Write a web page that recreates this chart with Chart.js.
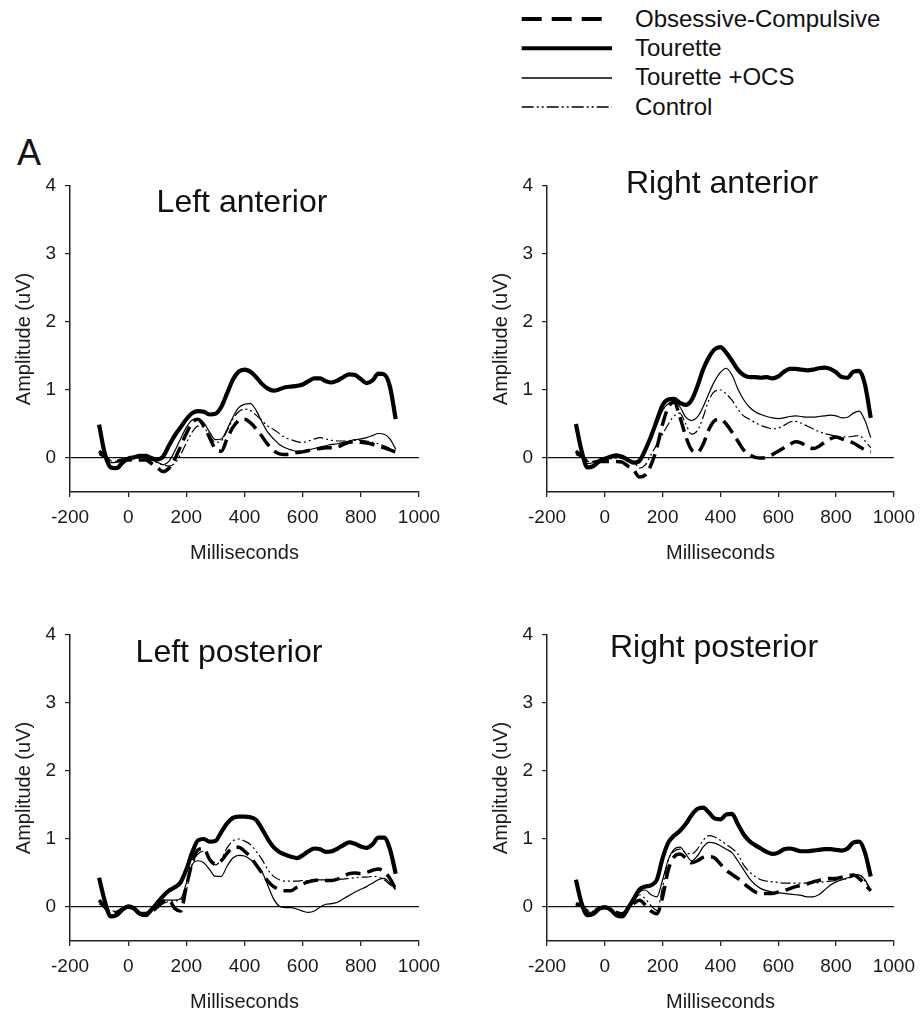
<!DOCTYPE html>
<html><head><meta charset="utf-8">
<script src="https://cdn.jsdelivr.net/npm/chart.js@4.4.1/dist/chart.umd.min.js"></script>
<style>
html,body{margin:0;padding:0;background:#fff;width:924px;height:1017px;overflow:hidden;font-family:"Liberation Sans",Arial,Helvetica,sans-serif;color:#111;}
.abs{position:absolute;white-space:nowrap;line-height:1;}
canvas{position:absolute;}
</style></head><body>
<div class="abs" style="left:17px;top:135px;font-size:36px;">A</div>
<svg id="leg" style="position:absolute;left:0;top:0;" width="924" height="125"></svg>
<script>
// ---- data ----
const ms = [-100,-80,-60,-40,-20,0,20,40,60,80,100,120,140,160,180,200,220,240,260,280,300,320,340,360,380,400,420,440,460,480,500,520,540,560,580,600,620,640,660,680,700,720,740,760,780,800,820,840,860,880,900,920];
const xTicks = [-200,0,200,400,600,800,1000];
const yTicks = [0,1,2,3,4];
const seriesNames = ['Obsessive-Compulsive','Tourette','Tourette +OCS','Control'];
const panelTitles = ['Left anterior','Right anterior','Left posterior','Right posterior'];

// Left anterior
const laOC = [0.10,0.03,-0.05,-0.05,-0.03,-0.03,-0.02,-0.03,-0.03,-0.08,-0.14,-0.20,-0.15,-0.02,0.17,0.36,0.52,0.57,0.47,0.30,0.13,0.10,0.28,0.45,0.55,0.57,0.52,0.43,0.32,0.20,0.11,0.06,0.05,0.06,0.08,0.09,0.11,0.13,0.14,0.15,0.15,0.16,0.20,0.23,0.24,0.23,0.22,0.20,0.17,0.15,0.12,0.09];
const laT  = [0.49,0.06,-0.14,-0.15,-0.07,-0.01,0.01,0.03,0.03,0.00,-0.02,0.02,0.18,0.33,0.45,0.57,0.66,0.69,0.68,0.64,0.65,0.75,0.95,1.15,1.27,1.30,1.27,1.19,1.09,1.02,0.99,1.01,1.04,1.05,1.06,1.08,1.13,1.17,1.17,1.13,1.11,1.14,1.19,1.23,1.22,1.16,1.10,1.14,1.24,1.23,1.05,0.57];
const laTO = [0.05,0.00,-0.07,-0.06,-0.02,0.00,0.01,0.01,0.00,-0.03,-0.06,-0.10,-0.05,0.10,0.28,0.45,0.56,0.58,0.52,0.38,0.27,0.28,0.42,0.60,0.74,0.79,0.80,0.70,0.53,0.38,0.28,0.20,0.15,0.12,0.10,0.10,0.12,0.14,0.16,0.18,0.20,0.21,0.23,0.25,0.27,0.28,0.30,0.33,0.36,0.35,0.28,0.13];
const laC  = [0.06,0.02,-0.04,-0.05,-0.03,-0.02,-0.01,-0.01,-0.02,-0.04,-0.07,-0.10,-0.12,-0.08,0.05,0.22,0.38,0.47,0.45,0.33,0.23,0.25,0.40,0.57,0.68,0.72,0.70,0.63,0.55,0.47,0.42,0.36,0.30,0.27,0.24,0.23,0.25,0.28,0.30,0.28,0.26,0.25,0.25,0.25,0.26,0.26,0.25,0.23,0.21,0.18,0.14,0.10];
// Right anterior
const raOC = [0.10,0.03,-0.05,-0.06,-0.05,-0.05,-0.05,-0.05,-0.06,-0.12,-0.18,-0.28,-0.25,-0.10,0.15,0.50,0.75,0.82,0.60,0.32,0.12,0.08,0.20,0.42,0.55,0.57,0.50,0.38,0.25,0.12,0.05,0.01,0.00,0.01,0.05,0.10,0.15,0.20,0.24,0.22,0.17,0.14,0.17,0.23,0.28,0.31,0.28,0.25,0.22,0.17,0.12,0.09];
const raT  = [0.50,0.10,-0.14,-0.12,-0.05,-0.01,0.02,0.04,0.02,-0.03,-0.07,-0.04,0.12,0.32,0.55,0.78,0.86,0.87,0.81,0.78,0.85,1.05,1.30,1.48,1.60,1.63,1.55,1.43,1.30,1.22,1.19,1.19,1.18,1.19,1.17,1.20,1.27,1.31,1.31,1.30,1.29,1.30,1.32,1.33,1.31,1.26,1.19,1.18,1.27,1.28,1.08,0.59];
const raTO = [0.08,0.02,-0.08,-0.07,-0.02,0.00,0.03,0.05,0.03,-0.02,-0.05,-0.02,0.12,0.30,0.50,0.70,0.80,0.83,0.75,0.60,0.55,0.60,0.75,0.95,1.13,1.26,1.32,1.22,1.02,0.86,0.75,0.68,0.64,0.61,0.59,0.58,0.59,0.61,0.62,0.61,0.60,0.60,0.61,0.62,0.63,0.62,0.59,0.60,0.66,0.69,0.55,0.30];
const raC  = [0.05,0.01,-0.05,-0.05,-0.03,-0.02,-0.01,0.00,-0.01,-0.03,-0.05,-0.15,-0.10,0.05,0.20,0.35,0.50,0.62,0.66,0.50,0.35,0.40,0.60,0.85,0.98,1.00,0.94,0.85,0.72,0.62,0.57,0.52,0.48,0.45,0.43,0.44,0.48,0.53,0.54,0.51,0.47,0.43,0.39,0.36,0.34,0.32,0.31,0.31,0.32,0.33,0.25,0.15];
// Left posterior
const lpOC = [0.10,0.00,-0.10,-0.08,-0.03,0.00,-0.03,-0.10,-0.12,-0.07,0.00,0.08,0.10,-0.02,-0.06,0.30,0.65,0.84,0.86,0.70,0.63,0.68,0.79,0.87,0.88,0.82,0.74,0.62,0.50,0.38,0.30,0.26,0.24,0.24,0.29,0.34,0.37,0.39,0.40,0.39,0.39,0.41,0.45,0.49,0.50,0.49,0.51,0.54,0.56,0.52,0.42,0.26];
const lpT  = [0.43,0.08,-0.14,-0.12,-0.04,0.01,-0.02,-0.10,-0.12,-0.04,0.06,0.16,0.24,0.29,0.36,0.55,0.80,0.98,1.00,0.96,0.97,1.10,1.23,1.31,1.33,1.33,1.32,1.28,1.15,1.00,0.88,0.81,0.77,0.74,0.72,0.76,0.82,0.86,0.85,0.81,0.82,0.86,0.91,0.95,0.93,0.89,0.87,0.92,1.02,1.02,0.85,0.49];
const lpTO = [0.05,-0.02,-0.12,-0.10,-0.04,-0.02,-0.04,-0.08,-0.08,-0.03,0.00,0.10,0.10,0.10,0.12,0.35,0.62,0.68,0.65,0.55,0.45,0.45,0.60,0.72,0.76,0.75,0.70,0.62,0.52,0.32,0.12,0.01,-0.01,-0.01,-0.03,-0.06,-0.08,-0.06,0.00,0.04,0.05,0.07,0.12,0.17,0.22,0.26,0.30,0.35,0.40,0.42,0.35,0.27];
const lpC  = [0.10,0.02,-0.06,-0.06,-0.02,0.00,-0.04,-0.09,-0.10,-0.04,0.00,0.05,0.08,0.09,0.10,0.25,0.62,0.78,0.82,0.72,0.62,0.70,0.87,0.97,1.00,0.97,0.92,0.82,0.70,0.55,0.45,0.40,0.38,0.38,0.38,0.39,0.39,0.40,0.40,0.40,0.40,0.41,0.41,0.42,0.43,0.44,0.44,0.45,0.44,0.40,0.33,0.25];
// Right posterior
const rpOC = [0.05,0.02,-0.06,-0.06,-0.02,-0.01,-0.03,-0.08,-0.10,-0.03,0.05,0.10,0.03,-0.06,-0.10,0.15,0.55,0.74,0.78,0.72,0.65,0.68,0.73,0.74,0.72,0.63,0.54,0.48,0.42,0.35,0.28,0.22,0.20,0.20,0.20,0.22,0.24,0.27,0.30,0.32,0.34,0.37,0.39,0.41,0.42,0.42,0.44,0.46,0.47,0.42,0.33,0.24];
const rpT  = [0.40,0.05,-0.12,-0.10,-0.03,0.00,-0.04,-0.12,-0.14,-0.02,0.12,0.26,0.30,0.32,0.40,0.72,0.95,1.05,1.12,1.22,1.35,1.44,1.46,1.39,1.30,1.29,1.36,1.37,1.22,1.07,0.97,0.91,0.86,0.81,0.78,0.80,0.85,0.86,0.84,0.82,0.82,0.83,0.84,0.85,0.85,0.84,0.83,0.86,0.95,0.96,0.80,0.45];
const rpTO = [0.05,0.00,-0.08,-0.07,-0.02,-0.02,-0.05,-0.12,-0.12,-0.02,0.10,0.22,0.25,0.18,0.15,0.40,0.70,0.85,0.88,0.78,0.68,0.75,0.88,0.95,0.94,0.90,0.85,0.80,0.68,0.55,0.42,0.33,0.27,0.24,0.22,0.21,0.20,0.19,0.18,0.17,0.15,0.15,0.18,0.25,0.32,0.37,0.40,0.43,0.45,0.47,0.40,0.25];
const rpC  = [0.03,0.00,-0.06,-0.06,-0.02,-0.01,-0.04,-0.10,-0.12,-0.03,0.08,0.18,0.12,0.02,-0.05,0.30,0.70,0.82,0.85,0.80,0.78,0.85,0.98,1.05,1.03,0.98,0.92,0.86,0.78,0.62,0.52,0.45,0.40,0.38,0.37,0.36,0.35,0.35,0.35,0.35,0.35,0.35,0.36,0.37,0.38,0.39,0.40,0.42,0.45,0.48,0.38,0.24];

// ---- layout / style ----
const F = '"Liberation Sans", Arial, Helvetica, sans-serif';
const TXT = '#1a1a1a', AX = '#222';
const lineStyles = [
  {w:3.5, dash:[15,7]},
  {w:4.2, dash:[]},
  {w:1.2, dash:[]},
  {w:1.2, dash:[10,3,2,3,2,3]}
];
const panels = [
  {series:[laOC,laT,laTO,laC], left:0,   top:150, width:460, titleX:242, titleTop:185},
  {series:[raOC,raT,raTO,raC], left:477, top:150, width:447, titleX:722, titleTop:166},
  {series:[lpOC,lpT,lpTO,lpC], left:0,   top:599, width:460, titleX:229, titleTop:635},
  {series:[rpOC,rpT,rpTO,rpC], left:477, top:599, width:447, titleX:714, titleTop:630}
];
const H = 418, PADTOP = 36, YW = 70, XH = 76, PLOTW = 349;

// legend
const svg = document.getElementById('leg');
const legRows = [19, 48.3, 78, 107];
const legTops = [7, 36.4, 65.4, 94.5];
const legW = [4, 4, 1.5, 1.5];
const legDash = ['20 10', '', '', '12 3 2 3 2 3'];
seriesNames.forEach((n,i)=>{
  const ln = document.createElementNS('http://www.w3.org/2000/svg','line');
  ln.setAttribute('x1',521.7); ln.setAttribute('x2', i===0 ? 601.7 : 612);
  ln.setAttribute('y1',legRows[i]); ln.setAttribute('y2',legRows[i]);
  ln.setAttribute('stroke','#000'); ln.setAttribute('stroke-width',legW[i]);
  if (legDash[i]) ln.setAttribute('stroke-dasharray',legDash[i]);
  svg.appendChild(ln);
  const d = document.createElement('div');
  d.className='abs'; d.textContent=n;
  d.style.left='635px'; d.style.top=legTops[i]+'px'; d.style.fontSize='24px';
  document.body.appendChild(d);
});

panels.forEach((p,pi)=>{
  const cv = document.createElement('canvas');
  cv.width = p.width; cv.height = H;
  cv.style.left = p.left+'px'; cv.style.top = p.top+'px';
  cv.style.width = p.width+'px'; cv.style.height = H+'px';
  document.body.appendChild(cv);
  const t = document.createElement('div');
  t.className='abs'; t.textContent = panelTitles[pi];
  t.style.fontSize='32px'; t.style.top=p.titleTop+'px';
  t.style.left=p.titleX+'px'; t.style.transform='translateX(-50%)';
  document.body.appendChild(t);

  const datasets = p.series.map((arr,si)=>({
    label: seriesNames[si],
    data: ms.map((x,i)=>({x:x, y:arr[i]})),
    borderColor:'#000',
    borderWidth: lineStyles[si].w,
    borderDash: lineStyles[si].dash,
    pointRadius:0,
    fill:false,
    cubicInterpolationMode:'monotone',
    borderCapStyle:'butt',
    borderJoinStyle:'round'
  }));
  const tickFont = {family:F, size:19};
  new Chart(cv, {
    type:'line',
    data:{datasets},
    options:{
      responsive:false, animation:false, events:[],
      layout:{padding:{top:PADTOP, right:p.width-YW-PLOTW, left:0, bottom:0}},
      plugins:{legend:{display:false}, tooltip:{enabled:false}},
      scales:{
        x:{
          type:'linear', min:-200, max:1000,
          afterBuildTicks:s=>{ s.ticks = xTicks.map(v=>({value:v})); },
          afterFit:s=>{ s.height = XH; },
          ticks:{font:tickFont, color:TXT, padding:9, maxRotation:0, autoSkip:false, callback:v=>String(v)},
          grid:{drawOnChartArea:false, drawTicks:true, tickLength:5, color:AX, tickColor:AX, lineWidth:1.3},
          border:{display:true, color:AX, width:1.5},
          title:{display:true, text:'Milliseconds', font:{family:F,size:20}, color:TXT, padding:{top:0,bottom:3}}
        },
        y:{
          type:'linear', min:-0.5, max:4,
          afterBuildTicks:s=>{ s.ticks = yTicks.map(v=>({value:v})); },
          afterFit:s=>{ s.width = YW; },
          ticks:{font:tickFont, color:TXT, padding:9, callback:v=>String(v)},
          grid:{drawOnChartArea:true, drawTicks:true, tickLength:5,
                color:c=>(c.tick && c.tick.value===0) ? '#111' : 'rgba(0,0,0,0)',
                tickColor:AX, lineWidth:1.2},
          border:{display:true, color:AX, width:1.5},
          title:{display:true, text:'Amplitude (uV)', font:{family:F,size:20}, color:TXT, padding:{top:12,bottom:0}}
        }
      }
    }
  });
});
</script>
</body></html>
